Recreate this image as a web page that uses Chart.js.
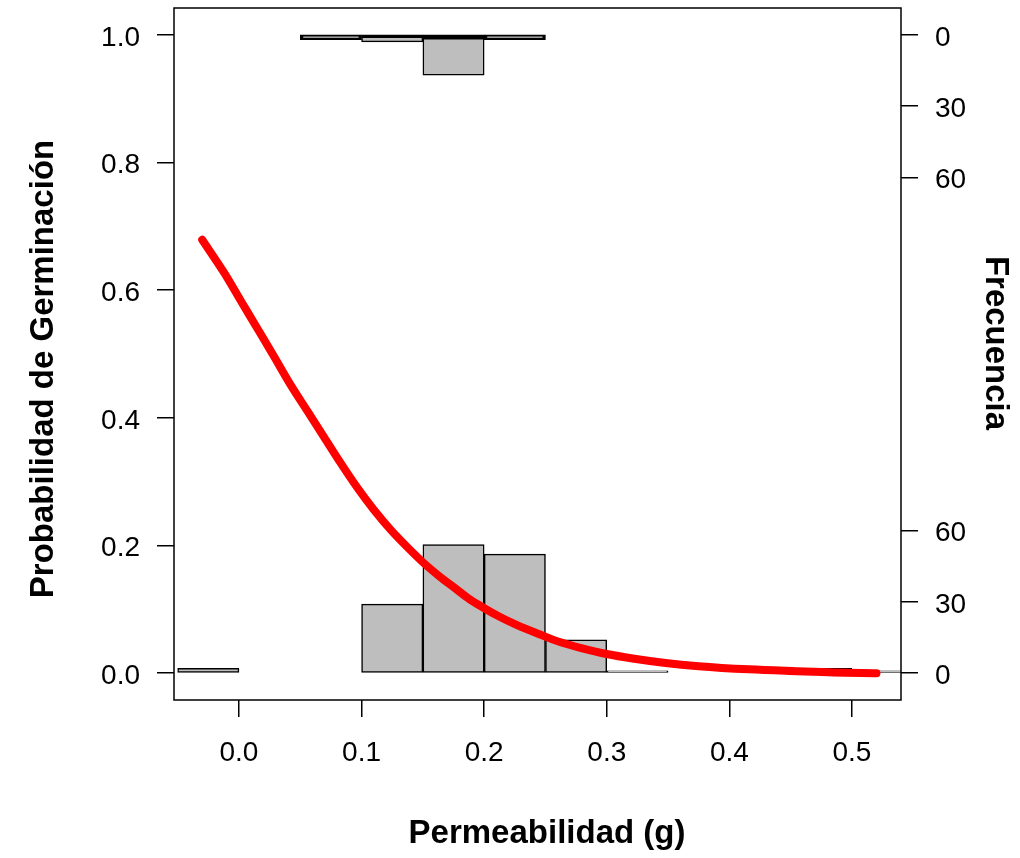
<!DOCTYPE html>
<html>
<head>
<meta charset="utf-8">
<script src="https://cdn.jsdelivr.net/npm/chart.js@4.4.1/dist/chart.umd.min.js"></script>
<style>
html,body{margin:0;padding:0;background:#fff;}
canvas{display:block;}
</style>
</head>
<body>
<canvas id="c" width="1020" height="858"></canvas>
<script>
// ---------- data ----------
const xTickValues = [0, 0.1, 0.2, 0.3, 0.4, 0.5];
const xTickLabels = ['0.0', '0.1', '0.2', '0.3', '0.4', '0.5'];
const yTickValues = [0, 0.2, 0.4, 0.6, 0.8, 1.0];
const yTickLabels = ['0.0', '0.2', '0.4', '0.6', '0.8', '1.0'];
const freqTickCounts = [0, 30, 60];
const freqTickLabels = ['0', '30', '60'];

const binWidth = 0.05;
// histogram of cases with response 0 (drawn upward from 0)
const binStartsBottom = [-0.05, 0.10, 0.15, 0.20, 0.25, 0.30, 0.45, 0.50];
const countsBottom    = [2, 29, 54, 50, 14, 1, 2, 1];
// histogram of cases with response 1 (drawn downward from 1)
const binStartsTop = [0.05, 0.10, 0.15, 0.20];
const countsTop    = [2, 3, 17, 2];

// fitted logistic curve, read point by point
const curveX = [-0.030, -0.012, 0.001, 0.015, 0.028, 0.042, 0.056, 0.069, 0.083, 0.096,
                0.110, 0.124, 0.137, 0.151, 0.164, 0.175, 0.188, 0.199, 0.213, 0.226,
                0.245, 0.263, 0.280, 0.300, 0.321, 0.348, 0.375, 0.416, 0.455, 0.485, 0.520];
const curveY = [0.679, 0.627, 0.585, 0.540, 0.498, 0.452, 0.410, 0.371, 0.329, 0.292,
                0.256, 0.224, 0.198, 0.172, 0.151, 0.135, 0.116, 0.103, 0.088, 0.076,
                0.061, 0.048, 0.039, 0.030, 0.023, 0.016, 0.011, 0.006, 0.003, 0.001, 0.000];

const xTitle = 'Permeabilidad (g)';
const yTitle = 'Probabilidad de Germinación';
const y2Title = 'Frecuencia';

// ---------- derived structures ----------
const FONT = "'Liberation Sans', Arial, Helvetica, sans-serif";
const X_MIN = -0.053, X_MAX = 0.540;
const Y_MIN = -0.042, Y_MAX = 1.042;
const probPerCount = 0.003728;   // frequency scale factor on the probability axis

const bottomData = binStartsBottom.map((s, i) => ({ x: s + binWidth / 2, y: [0, countsBottom[i] * probPerCount] }));
const topData = binStartsTop.map((s, i) => ({ x: s + binWidth / 2, y: [1 - countsTop[i] * probPerCount, 1] }));
const curveData = curveX.map((x, i) => ({ x: x, y: curveY[i] }));

const freqTickValues = freqTickCounts.map(c => c * probPerCount)
  .concat(freqTickCounts.map(c => 1 - c * probPerCount));
const freqTickText = freqTickLabels.concat(freqTickLabels);

const boxPlugin = {
  id: 'rbox',
  afterDraw(chart) {
    const { ctx, chartArea: a } = chart;
    ctx.save();
    ctx.strokeStyle = '#000';
    ctx.lineWidth = 1.5;
    ctx.strokeRect(a.left, a.top, a.right - a.left, a.bottom - a.top);
    ctx.restore();
  }
};

const titlePlugin = {
  id: 'rtitles',
  afterDraw(chart) {
    const ctx = chart.ctx;
    ctx.save();
    ctx.fillStyle = '#000';
    ctx.font = 'bold 33px ' + FONT;
    ctx.textAlign = 'center';
    ctx.textBaseline = 'alphabetic';
    ctx.fillText(xTitle, 547, 843);
    ctx.save();
    ctx.translate(53, 369);
    ctx.rotate(-Math.PI / 2);
    ctx.fillText(yTitle, 0, 0);
    ctx.restore();
    ctx.save();
    ctx.translate(986, 343);
    ctx.rotate(Math.PI / 2);
    ctx.fillText(y2Title, 0, 0);
    ctx.restore();
    ctx.restore();
  }
};

function noPad(s) { s.paddingTop = 0; s.paddingBottom = 0; s.paddingLeft = 0; s.paddingRight = 0; }

const gridOpts = { display: true, drawOnChartArea: false, drawTicks: true, tickLength: 17, color: '#000', lineWidth: 1.5, offset: false };
const tickFont = { family: FONT, size: 28 };

new Chart(document.getElementById('c'), {
  type: 'bar',
  data: {
    datasets: [
      {
        type: 'line', data: curveData, borderColor: '#ff0000', borderWidth: 8,
        pointRadius: 0, borderCapStyle: 'round', borderJoinStyle: 'round',
        cubicInterpolationMode: 'monotone', fill: false, order: 0, xAxisID: 'x', yAxisID: 'y'
      },
      {
        type: 'bar', data: bottomData, backgroundColor: '#bebebe', borderColor: '#000',
        borderWidth: 1.5, borderSkipped: false, grouped: false,
        categoryPercentage: 1, barPercentage: 1, order: 1, xAxisID: 'x', yAxisID: 'y'
      },
      {
        type: 'bar', data: topData, backgroundColor: '#bebebe', borderColor: '#000',
        borderWidth: ctx => (countsTop[ctx.dataIndex] <= 2
          ? 3
          : { top: 5, left: 1.5, right: 1.5, bottom: 1.5 }),
        borderSkipped: false, grouped: false,
        categoryPercentage: 1, barPercentage: 1, order: 1, xAxisID: 'x', yAxisID: 'y'
      }
    ]
  },
  options: {
    responsive: false,
    animation: false,
    devicePixelRatio: 1,
    layout: { padding: { top: 8, left: 0, right: 0, bottom: 0 } },
    plugins: { legend: { display: false }, tooltip: { enabled: false } },
    scales: {
      x: {
        type: 'linear', position: 'bottom', min: X_MIN, max: X_MAX, offset: false,
        grid: gridOpts, border: { display: false },
        ticks: { font: tickFont, color: '#000', padding: 19, maxRotation: 0, autoSkip: false,
                 callback: (v, i) => xTickLabels[i] },
        afterBuildTicks: s => { s.ticks = xTickValues.map(v => ({ value: v })); },
        afterFit: s => { s.height = 158; noPad(s); }
      },
      y: {
        type: 'linear', position: 'left', min: Y_MIN, max: Y_MAX,
        grid: gridOpts, border: { display: false },
        ticks: { font: tickFont, color: '#000', padding: 17, labelOffset: 3, autoSkip: false,
                 callback: (v, i) => yTickLabels[i] },
        afterBuildTicks: s => { s.ticks = yTickValues.map(v => ({ value: v })); },
        afterFit: s => { s.width = 174; noPad(s); }
      },
      y2: {
        type: 'linear', position: 'right', min: Y_MIN, max: Y_MAX,
        grid: gridOpts, border: { display: false },
        ticks: { font: tickFont, color: '#000', padding: 17, labelOffset: 3, autoSkip: false,
                 callback: (v, i) => freqTickText[i] },
        afterBuildTicks: s => { s.ticks = freqTickValues.map(v => ({ value: v })); },
        afterFit: s => { s.width = 119; noPad(s); }
      }
    }
  },
  plugins: [boxPlugin, titlePlugin]
});
</script>
</body>
</html>
